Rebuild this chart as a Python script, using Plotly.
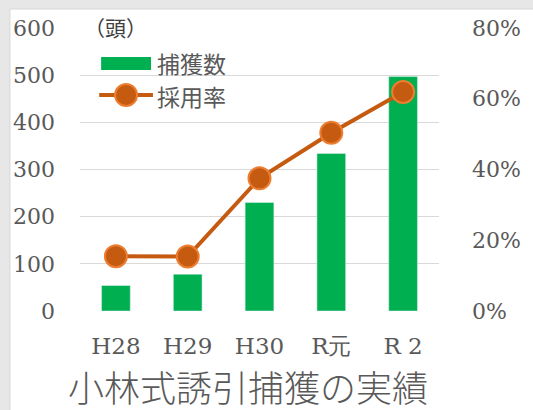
import plotly.graph_objects as go

categories = ["H28", "H29", "H30", "R元", "R 2"]
captures = [54, 78, 230, 334, 497]
rates = [0.155, 0.154, 0.375, 0.504, 0.619]
left_ticks = [0, 100, 200, 300, 400, 500, 600]
right_ticks = [0, 0.2, 0.4, 0.6, 0.8]

W, H = 533, 410
ML, MR, MT, MB = 80, 79, 28, 99
PW, PH = W - ML - MR, H - MT - MB

def px(x):
    return (x - ML) / PW

def py(y):
    return (H - MB - y) / PH

GREEN = "#00b050"
ORANGE = "#c55a11"
ORANGE_L = "#ed7d31"
GRAY = "#595959"
SERIF = "DejaVu Serif, Liberation Serif, serif"
CJK = "Noto Sans CJK JP, Noto Sans, sans-serif"

fig = go.Figure()
fig.add_trace(go.Bar(x=categories, y=captures, marker_color=GREEN, width=0.4,
                     name="捕獲数", yaxis="y"))
fig.add_trace(go.Scatter(x=categories, y=rates, mode="lines+markers", name="採用率",
                         yaxis="y2",
                         line=dict(color=ORANGE, width=4),
                         marker=dict(size=22, color=ORANGE, line=dict(color=ORANGE_L, width=2))))

shapes = [
    dict(type="rect", xref="paper", yref="paper", x0=px(7), x1=px(W + 20), y0=py(H + 20), y1=py(9),
         fillcolor="white", line=dict(color="#d6d6d6", width=1), layer="below"),
    # custom legend
    dict(type="rect", xref="paper", yref="paper", x0=px(102), x1=px(154), y0=py(70), y1=py(57),
         fillcolor=GREEN, line=dict(width=0)),
    dict(type="line", xref="paper", yref="paper", x0=px(100), x1=px(156), y0=py(95), y1=py(95),
         line=dict(color=ORANGE, width=4)),
    dict(type="circle", xref="paper", yref="paper", xsizemode="pixel", ysizemode="pixel",
         xanchor=px(128), yanchor=py(95), x0=-11, x1=11, y0=-11, y1=11,
         fillcolor=ORANGE, line=dict(color=ORANGE_L, width=2)),
]

annotations = [
    dict(text="捕獲数", xref="paper", yref="paper", x=px(158), y=py(63), xanchor="left",
         yanchor="middle", showarrow=False, font=dict(family=CJK, size=23, color=GRAY)),
    dict(text="採用率", xref="paper", yref="paper", x=px(158), y=py(96), xanchor="left",
         yanchor="middle", showarrow=False, font=dict(family=CJK, size=23, color=GRAY)),
    dict(text="（頭）", xref="paper", yref="paper", x=px(82), y=py(27), xanchor="left",
         yanchor="middle", showarrow=False, font=dict(family=CJK, size=21, color="#404040")),
    dict(text="小林式誘引捕獲の実績", xref="paper", yref="paper", x=px(255), y=py(386),
         xanchor="center", yanchor="middle", showarrow=False, height=40, valign="middle",
         font=dict(family=CJK, size=36, color=GRAY, weight=300)),
]

fig.update_layout(
    width=W, height=H,
    margin=dict(l=ML, r=MR, t=MT, b=MB, pad=0),
    paper_bgcolor="#e7e7e7",
    plot_bgcolor="white",
    showlegend=False,
    bargap=0.6,
    shapes=shapes,
    annotations=annotations,
    xaxis=dict(showgrid=False, showline=False, zeroline=False, ticks="",
               tickfont=dict(family=SERIF, size=23, color=GRAY), ticklabelstandoff=19),
    yaxis=dict(range=[0, 600], tickvals=left_ticks, showgrid=True, gridcolor="#d9d9d9",
               gridwidth=1.3, zeroline=False, showline=False, ticks="",
               tickfont=dict(family=SERIF, size=22, color=GRAY), ticklabelstandoff=24),
    yaxis2=dict(range=[0, 0.8], tickvals=right_ticks, tickformat=".0%", overlaying="y",
                side="right", showgrid=False, zeroline=False, showline=False, ticks="",
                tickfont=dict(family=SERIF, size=22, color=GRAY), ticklabelstandoff=32),
)

fig.write_html("out.html", config={"displayModeBar": False},
               post_script="document.body.style.margin='0';document.body.style.overflow='hidden';")
